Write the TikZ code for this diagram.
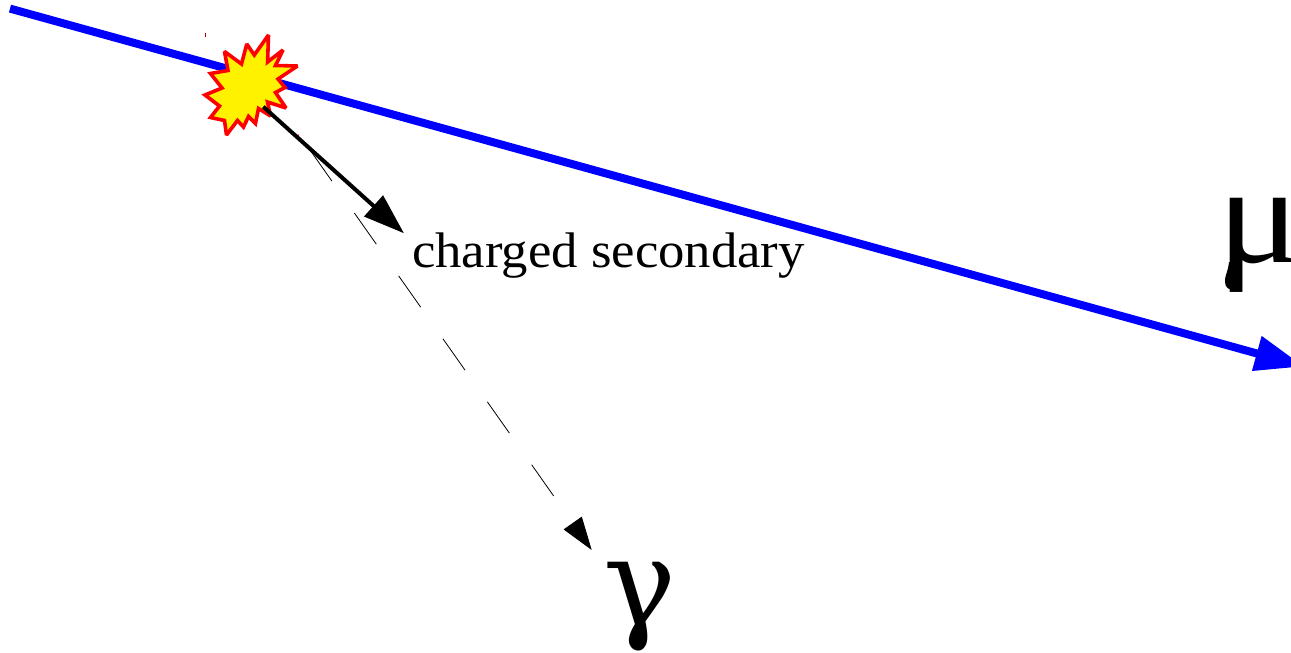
\documentclass[tikz,border=0pt]{standalone}
\usepackage{fontspec}
\setmainfont{Liberation Serif}
\newfontfamily\labelfont[FakeStretch=1.054]{Liberation Serif}
\newfontfamily\mufont[FakeStretch=1.12]{Liberation Serif}
\newfontfamily\gammafont{DejaVu Serif}
\usetikzlibrary{arrows.meta}
\tikzset{
  muon/.style={draw={rgb,255:red,0;green,0;blue,255},line width=8pt,-{Triangle[length=49pt,width=34pt]}},
  secondary/.style={draw=black,line width=4pt,-{Triangle[length=41pt,width=27.5pt]}},
  photon/.style={draw=black,line width=0.8pt,dash pattern=on 38.2pt off 38.8pt,-{Triangle[length=33pt,width=22pt]}},
  burst/.style={draw=red,fill=yellow,line width=3.6pt,line join=miter,miter limit=2.4},
  tick/.style={draw=red!70!black,line width=0.8pt},
  lbl/.style={inner sep=0pt,anchor=base west,text=black}
}
\begin{document}
\begin{tikzpicture}[x=1pt,y=-1pt]
\useasboundingbox (0,0) rectangle (1291,653);
\clip (0,0) rectangle (1291,653);
\coordinate (muonstart) at (10,8.6);
\coordinate (muontip) at (1304,366.5);
\coordinate (secstart) at (263.3,106.7);
\coordinate (sectip) at (404,233.3);
\coordinate (phstart) at (310,150);
\coordinate (phtip) at (591.7,550);
\draw[muon] (muonstart) -- (muontip);
\draw[photon] (phstart) -- (phtip);
\draw[burst] (268.5,35) -- (267.6,62) -- (283,50) -- (275.5,65.5) -- (297.5,66) -- (278,79) -- (285,87.5) -- (275.5,92.5) -- (286,108) -- (267.5,102) -- (270.5,116) -- (258.5,108.5) -- (255.5,123.5) -- (248.5,116.5) -- (243.5,127) -- (237.5,120.5) -- (226.5,135) -- (224.5,120.5) -- (210.5,117.5) -- (219.5,106) -- (205,95) -- (222,88) -- (210.5,73.5) -- (228,70.5) -- (224.5,51.5) -- (241.5,64) -- (246.8,44) -- (254.3,55) -- cycle;
\draw[secondary] (secstart) -- (sectip);
\draw[tick] (205.3,33.3) -- (205.3,36.7);
\draw[tick] (297.8,134.5) -- (298.8,135.5);
\node[lbl,font=\labelfont\fontsize{50}{50}\selectfont] (chg) at (412,267) {charged secondary};
\node[lbl,font=\mufont\fontsize{140}{140}\selectfont] (mu) at (1217,262) {μ};
\fill[black] (1229,262) .. controls (1228,272) and (1224.5,276) .. (1225,282) .. controls (1225.5,292) and (1237.5,292) .. (1238,282) .. controls (1238.5,276) and (1236,272) .. (1235,262) -- cycle;
\node[lbl,font=\gammafont\fontsize{122}{122}\selectfont] (gam) at (603,625) {γ};
\end{tikzpicture}
\end{document}
